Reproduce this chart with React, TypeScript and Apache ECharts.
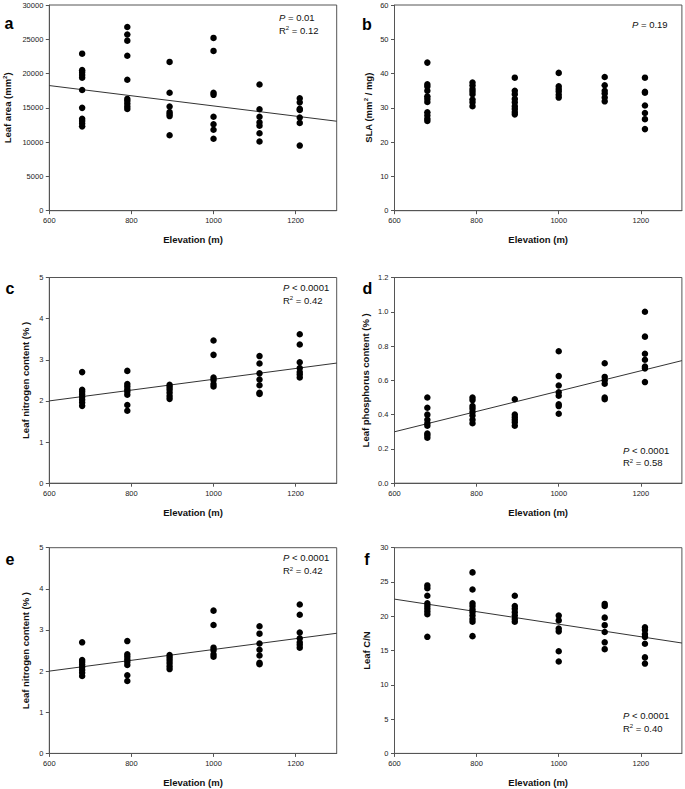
import React, { useEffect, useRef } from "react";
import * as echarts from "echarts";

// Elevation groups (m)
const elevations = [680, 790, 893, 1000, 1112, 1210];

// Panel a: leaf area (mm2) per elevation group
const leafArea = [
  [22900, 20500, 20200, 19800, 19400, 17600, 15000, 13400, 13100, 12700, 12300],
  [26800, 25700, 24800, 22600, 19100, 16300, 16000, 15600, 15200, 14850],
  [21700, 17200, 15200, 14400, 14100, 13800, 11000],
  [25200, 23300, 17200, 16900, 13700, 12600, 11800, 10500],
  [18400, 14800, 13700, 12900, 12400, 11300, 10100],
  [16400, 15800, 14850, 14700, 13600, 12800, 9500],
];
// Panel b: SLA
const sla = [
  [43.2, 36.9, 36.2, 35.0, 33.4, 32.6, 31.7, 28.7, 27.8, 26.8, 26.2],
  [37.4, 36.5, 35.5, 34.8, 34.0, 32.4, 31.6, 30.5],
  [38.8, 35.0, 34.0, 32.6, 31.6, 30.5, 29.7, 28.8, 28.1],
  [40.2, 36.3, 35.5, 34.8, 33.8, 33.0],
  [39.0, 36.6, 35.0, 34.2, 33.0, 31.9],
  [38.8, 34.7, 34.4, 30.7, 28.5, 26.7, 23.8],
];
// Panels c & e: leaf nitrogen (%)
const nitrogen = [
  [2.70, 2.27, 2.22, 2.16, 2.10, 2.03, 1.96, 1.88],
  [2.73, 2.41, 2.35, 2.28, 2.22, 2.15, 1.90, 1.76],
  [2.39, 2.33, 2.27, 2.20, 2.12, 2.05],
  [3.47, 3.12, 2.57, 2.51, 2.41, 2.35],
  [3.09, 2.91, 2.67, 2.52, 2.38, 2.20, 2.17],
  [3.62, 3.37, 2.94, 2.80, 2.70, 2.64, 2.57],
];
// Panel d: leaf phosphorus (%)
const phosphorus = [
  [0.50, 0.44, 0.40, 0.37, 0.35, 0.335, 0.29, 0.28, 0.265],
  [0.50, 0.485, 0.45, 0.435, 0.415, 0.395, 0.37, 0.35],
  [0.49, 0.40, 0.385, 0.37, 0.355, 0.335],
  [0.77, 0.625, 0.57, 0.53, 0.51, 0.46, 0.45, 0.405],
  [0.70, 0.62, 0.60, 0.58, 0.50, 0.49],
  [1.00, 0.855, 0.755, 0.72, 0.68, 0.67, 0.59],
];
// Panel f: leaf C/N
const cn = [
  [24.5, 24.1, 23.0, 21.9, 21.5, 21.1, 20.7, 20.3, 17.0],
  [26.4, 23.9, 21.9, 21.5, 21.0, 20.6, 20.1, 19.6, 19.2, 17.1],
  [23.0, 21.5, 21.1, 20.6, 20.1, 19.6, 19.2],
  [20.1, 19.4, 18.2, 17.8, 14.9, 13.4],
  [21.8, 21.5, 19.8, 18.7, 17.7, 16.2, 15.2],
  [18.4, 18.0, 17.4, 17.0, 16.0, 14.0, 13.1],
];

// Regression line endpoints (x = 600 and x = 1300)
const trendX = [600, 1300];
const trendA = [18250, 13050];
const trendC = [2.0, 2.92];
const trendD = [0.3, 0.715];
const trendF = [22.5, 16.1];

const xTicks = [600, 800, 1000, 1200];

const FONT = "'Liberation Sans', Arial, Helvetica, sans-serif";

function flat(groups: number[][]) {
  const out: number[][] = [];
  groups.forEach((g, i) => g.forEach((v) => out.push([elevations[i], v])));
  return out;
}

export default function App() {
  const ref = useRef<HTMLDivElement>(null);
  useEffect(() => {
    if (!ref.current) return;
    const chart = echarts.init(ref.current, null, { renderer: "svg" });

    const W = 287.4;
    const H = 205.7;
    const L1 = 49.3;
    const L2 = 394.5;
    const tops = [5, 277.5, 547.7];
    const grids = [
      { left: L1, top: tops[0] },
      { left: L2, top: tops[0] },
      { left: L1, top: tops[1] },
      { left: L2, top: tops[1] },
      { left: L1, top: tops[2] },
      { left: L2, top: tops[2] },
    ].map((g) => ({
      ...g,
      width: W,
      height: H,
      show: true,
      borderColor: "#555",
      borderWidth: 1,
      backgroundColor: "transparent",
    }));

    const yCfg = [
      { max: 30000, interval: 5000, dec: 0 },
      { max: 60, interval: 10, dec: 0 },
      { max: 5, interval: 1, dec: 0 },
      { max: 1.2, interval: 0.2, dec: 1 },
      { max: 5, interval: 1, dec: 0 },
      { max: 30, interval: 5, dec: 0 },
    ];

    const xAxis = grids.map((_, i) => ({
      type: "value",
      gridIndex: i,
      min: 600,
      max: 1300,
      interval: 200,
      axisLine: { show: true, lineStyle: { color: "#555", width: 1 } },
      axisTick: {
        show: true,
        length: 3.5,
        customValues: xTicks,
        lineStyle: { color: "#555" },
      },
      axisLabel: {
        customValues: xTicks,
        fontSize: 7.5,
        color: "#222",
        fontFamily: FONT,
        margin: 6,
        formatter: (v: number) => String(v),
      },
      splitLine: { show: false },
    }));

    const yAxis = yCfg.map((c, i) => ({
      type: "value",
      gridIndex: i,
      min: 0,
      max: c.max,
      interval: c.interval,
      axisLine: { show: true, lineStyle: { color: "#555", width: 1 } },
      axisTick: { show: true, length: 3.5, lineStyle: { color: "#555" } },
      axisLabel: {
        fontSize: 7.5,
        color: "#222",
        fontFamily: FONT,
        margin: 6,
        formatter: (v: number) => v.toFixed(c.dec),
      },
      splitLine: { show: false },
    }));

    const datasets = [leafArea, sla, nitrogen, phosphorus, nitrogen, cn];
    const trends: (number[] | null)[] = [trendA, null, trendC, trendD, trendC, trendF];

    const series: any[] = [];
    datasets.forEach((d, i) => {
      const t = trends[i];
      if (t) {
        series.push({
          type: "line",
          xAxisIndex: i,
          yAxisIndex: i,
          data: [
            [trendX[0], t[0]],
            [trendX[1], t[1]],
          ],
          symbol: "none",
          lineStyle: { color: "#333", width: 1 },
          silent: true,
          z: 1,
        });
      }
      series.push({
        type: "scatter",
        xAxisIndex: i,
        yAxisIndex: i,
        data: flat(d),
        symbol: "circle",
        symbolSize: 6.5,
        itemStyle: { color: "#000", opacity: 1 },
        z: 3,
      });
    });

    const rich = {
      i: { fontStyle: "italic", fontSize: 9.5, fontFamily: FONT, fill: "#111" },
      n: { fontSize: 9.5, fontFamily: FONT, fill: "#111" },
      s: { fontSize: 6, fontFamily: FONT, fill: "#111", verticalAlign: "top" },
    };

    const ann = (x: number, y: number, text: string) => ({
      type: "text",
      x,
      y,
      style: {
        text,
        rich,
        fontSize: 9.5,
        fontFamily: FONT,
        fill: "#111",
        align: "left",
        verticalAlign: "middle",
      },
    });

    const letter = (x: number, y: number, t: string) => ({
      type: "text",
      x,
      y,
      style: {
        text: t,
        fontSize: 16,
        fontWeight: "bold",
        fontFamily: FONT,
        fill: "#000",
        align: "center",
        verticalAlign: "alphabetic",
      },
    });

    const xTitle = (cx: number, cy: number) => ({
      type: "text",
      x: cx,
      y: cy,
      style: {
        text: "Elevation (m)",
        fontSize: 9.5,
        fontWeight: "bold",
        fontFamily: FONT,
        fill: "#111",
        align: "center",
        verticalAlign: "middle",
      },
    });

    const yRich = {
      t: { fontSize: 9.5, fontWeight: "bold", fontFamily: FONT, fill: "#111" },
      s: { fontSize: 6, fontWeight: "bold", fontFamily: FONT, fill: "#111", verticalAlign: "top" },
    };

    const yTitle = (cx: number, cy: number, text: string) => ({
      type: "text",
      x: cx,
      y: cy,
      rotation: Math.PI / 2,
      style: {
        text,
        rich: yRich,
        fontSize: 9.5,
        fontWeight: "bold",
        fontFamily: FONT,
        fill: "#111",
        align: "center",
        verticalAlign: "middle",
      },
    });

    const cx1 = L1 + W / 2;
    const cx2 = L2 + W / 2;
    const cy = tops.map((t) => t + H / 2);

    const graphic = [
      letter(9, 15.5, "a"),
      letter(367, 16.5, "b"),
      letter(10, 280.5, "c"),
      letter(367.5, 280, "d"),
      letter(10, 551.5, "e"),
      letter(367, 551.5, "f"),
      xTitle(cx1, 239),
      xTitle(cx2, 239),
      xTitle(cx1, 512),
      xTitle(cx2, 512),
      xTitle(cx1, 782),
      xTitle(cx2, 782),
      yTitle(7, cy[0], "{t|Leaf area (mm}{s|2}{t|)}"),
      yTitle(368, cy[0], "{t|SLA (mm}{s|2}{t| / mg)}"),
      yTitle(25, cy[1], "{t|Leaf nitrogen content (% )}"),
      yTitle(365, cy[1], "{t|Leaf phosphorus content (% )}"),
      yTitle(25, cy[2], "{t|Leaf nitrogen content (% )}"),
      yTitle(366, cy[2], "{t|Leaf C/N}"),
      ann(279, 17, "{i|P}{n| = 0.01}"),
      ann(279, 30, "{n|R}{s|2}{n| = 0.12}"),
      ann(632, 24, "{i|P}{n| = 0.19}"),
      ann(283, 287, "{i|P}{n| < 0.0001}"),
      ann(283, 300, "{n|R}{s|2}{n| = 0.42}"),
      ann(623, 450, "{i|P}{n| < 0.0001}"),
      ann(623, 462.5, "{n|R}{s|2}{n| = 0.58}"),
      ann(283, 557.5, "{i|P}{n| < 0.0001}"),
      ann(283, 570.5, "{n|R}{s|2}{n| = 0.42}"),
      ann(623, 715, "{i|P}{n| < 0.0001}"),
      ann(623, 728, "{n|R}{s|2}{n| = 0.40}"),
    ];

    chart.setOption({
      animation: false,
      backgroundColor: "#fff",
      grid: grids,
      xAxis,
      yAxis,
      series,
      graphic,
    });
    return () => chart.dispose();
  }, []);

  return (
    <div
      ref={ref}
      style={{ position: "absolute", left: 0, top: 0, width: 685, height: 789, background: "#fff" }}
    />
  );
}
